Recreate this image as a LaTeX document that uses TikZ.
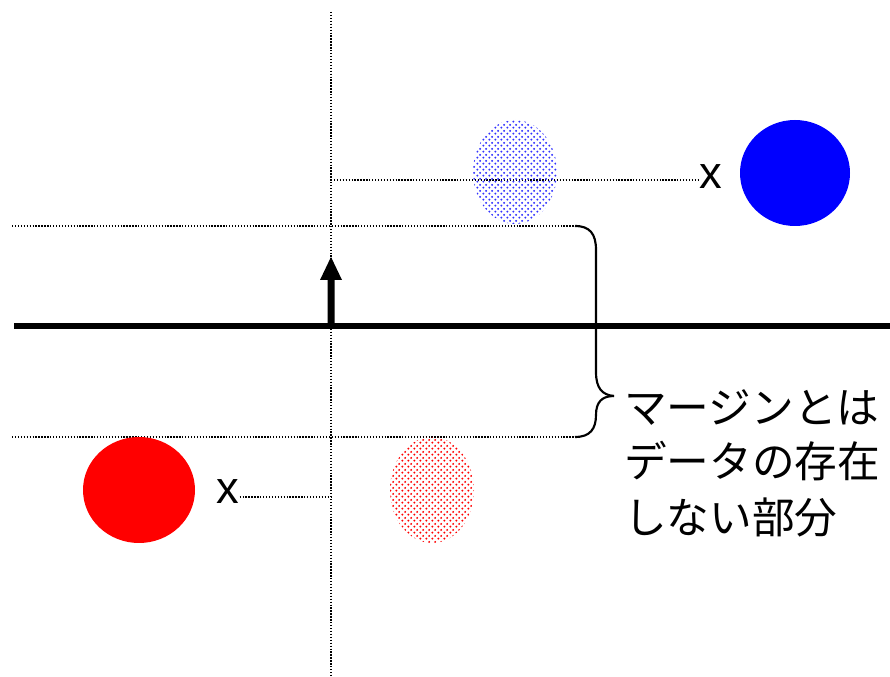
\documentclass[tikz,border=0pt]{standalone}
\usepackage{fontspec}
\setmainfont{Liberation Sans}
\newfontfamily\cjk{Noto Sans CJK JP}
\usetikzlibrary{patterns.meta,shapes.geometric}
\tikzdeclarepattern{
  name=bigdots,
  type=uncolored,
  bounding box={(0pt,0pt) and (4.3pt,4.3pt)},
  tile size={(4.3pt,4.3pt)},
  code={
    \pgfpathcircle{\pgfpoint{1.075pt}{1.075pt}}{0.8pt}
    \pgfpathcircle{\pgfpoint{3.225pt}{3.225pt}}{0.8pt}
    \pgfusepath{fill}
  }
}
\begin{document}
\begin{tikzpicture}[x=0.75pt,y=-0.75pt,
  dotline/.style={line width=1pt,dash pattern=on 1pt off 1.2pt},
  axisline/.style={line width=5.2pt},
  xlabel/.style={font=\fontsize{34}{38}\selectfont,inner sep=0pt},
  jptext/.style={font=\cjk\fontsize{32}{40}\selectfont,inner sep=0pt,anchor=base west},
  ghost/.style={pattern=bigdots}]
\useasboundingbox (0,0) rectangle (890,677);
% coordinates
\coordinate (vtop) at (331,12);
\coordinate (vbot) at (331,675);
\coordinate (ulL) at (12,226);
\coordinate (ulR) at (575,226);
\coordinate (llL) at (12,437);
\coordinate (llR) at (575,437);
\coordinate (axL) at (14,326);
\coordinate (axR) at (890,326);
% dotted guides
\draw[dotline] (vtop) -- (vbot);
\draw[dotline] (ulL) -- (ulR);
\draw[dotline] (llL) -- (llR);
% axis
\draw[axisline] (axL) -- (axR);
% arrow
\fill (327.5,326) -- (327.5,280) -- (320,280) -- (331,257) -- (342,280) -- (334.5,280) -- (334.5,326) -- cycle;
% blue
\node[fill=blue,ellipse,minimum width=82.5pt,minimum height=79.5pt,inner sep=0pt] (bsolid) at (795,173) {};
\node[xlabel] (bx) at (711,177) {x};
\coordinate (bstart) at (331,180);
\draw[dotline] (bstart) -- (bx.west |- bstart);
\path[ghost,pattern color=blue!80] (515,172) ellipse [x radius=42,y radius=52];
% red
\node[fill=red,ellipse,minimum width=84pt,minimum height=79.5pt,inner sep=0pt] (rsolid) at (139,490) {};
\node[xlabel] (rx) at (228,492) {x};
\coordinate (rend) at (331,497);
\draw[dotline] (rx.east |- rend) -- (rend);
\path[ghost,pattern color=red] (432,490) ellipse [x radius=42,y radius=53];
% brace
\draw[line width=1.6pt] (ulR) .. controls (590,226) and (596,234) .. (596,250)
  -- (596,372) .. controls (596,388) and (602,395) .. (614,396);
\draw[line width=1.6pt] (llR) .. controls (590,437) and (596,429) .. (596,415)
  .. controls (596,402) and (602,396) .. (614,396);
% text
\node[jptext] (t1) at (624,424) {マージンとは};
\node[jptext] (t2) at (624,478) {データの存在};
\node[jptext] (t3) at (624,533) {しない部分};
\end{tikzpicture}
\end{document}
